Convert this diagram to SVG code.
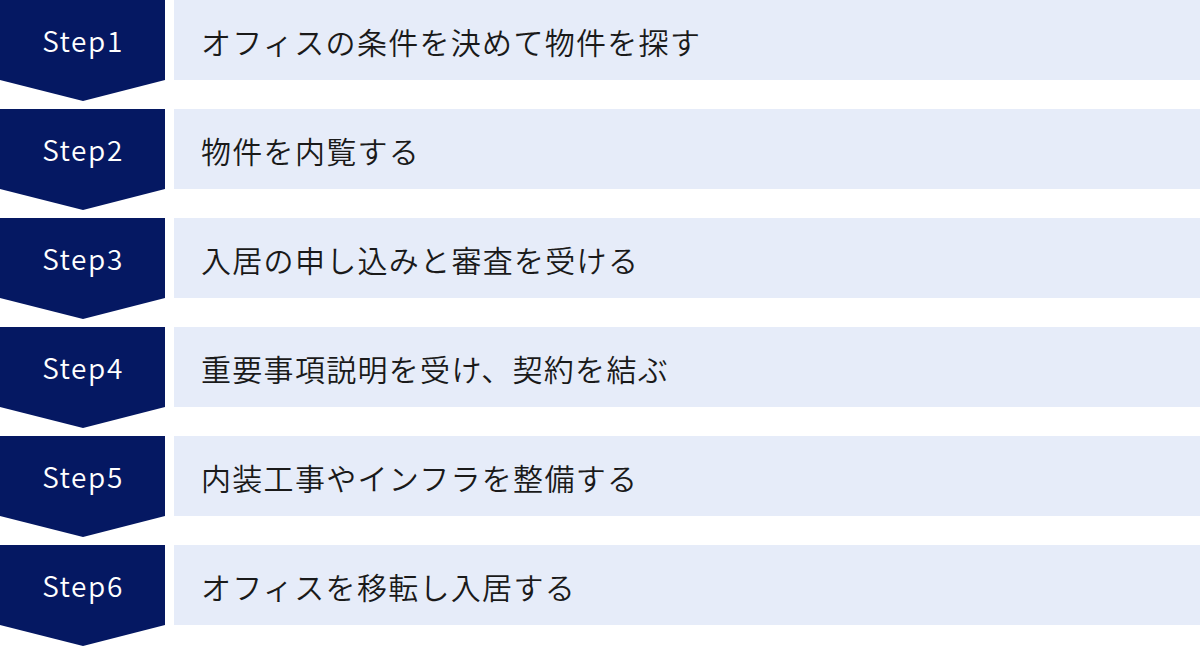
<svg xmlns="http://www.w3.org/2000/svg" width="1200" height="647" viewBox="0 0 1200 647">
<style>
.badge{fill:#051862}
.bar{fill:#e6ecf9}
.step{font-family:"Noto Sans CJK JP","Noto Sans",sans-serif;font-size:28px;font-weight:350;letter-spacing:1.6px;fill:#ffffff;text-anchor:middle}
.label{font-family:"Noto Sans CJK JP","Noto Sans",sans-serif;font-size:30px;font-weight:350;letter-spacing:1.3px;fill:#1a1a1a}
</style>
<defs>
<path id="chev" d="M0 0H165V80L83 101L0 80Z"/>
</defs>
<rect width="1200" height="647" fill="#ffffff"/>
<g id="connectors"></g>
<g id="step1" transform="translate(0,0)">
<use href="#chev" class="badge"/><rect class="bar" x="174" y="0" width="1026" height="80"/>
<text class="step" x="83" y="51.5">Step1</text>
<text class="label" x="201" y="54">オフィスの条件を決めて物件を探す</text>
</g>
<g id="step2" transform="translate(0,109)">
<use href="#chev" class="badge"/><rect class="bar" x="174" y="0" width="1026" height="80"/>
<text class="step" x="83" y="51.5">Step2</text>
<text class="label" x="201" y="54">物件を内覧する</text>
</g>
<g id="step3" transform="translate(0,218)">
<use href="#chev" class="badge"/><rect class="bar" x="174" y="0" width="1026" height="80"/>
<text class="step" x="83" y="51.5">Step3</text>
<text class="label" x="201" y="54">入居の申し込みと審査を受ける</text>
</g>
<g id="step4" transform="translate(0,327)">
<use href="#chev" class="badge"/><rect class="bar" x="174" y="0" width="1026" height="80"/>
<text class="step" x="83" y="51.5">Step4</text>
<text class="label" x="201" y="54">重要事項説明を受け、契約を結ぶ</text>
</g>
<g id="step5" transform="translate(0,436)">
<use href="#chev" class="badge"/><rect class="bar" x="174" y="0" width="1026" height="80"/>
<text class="step" x="83" y="51.5">Step5</text>
<text class="label" x="201" y="54">内装工事やインフラを整備する</text>
</g>
<g id="step6" transform="translate(0,545)">
<use href="#chev" class="badge"/><rect class="bar" x="174" y="0" width="1026" height="80"/>
<text class="step" x="83" y="51.5">Step6</text>
<text class="label" x="201" y="54">オフィスを移転し入居する</text>
</g>
</svg>
